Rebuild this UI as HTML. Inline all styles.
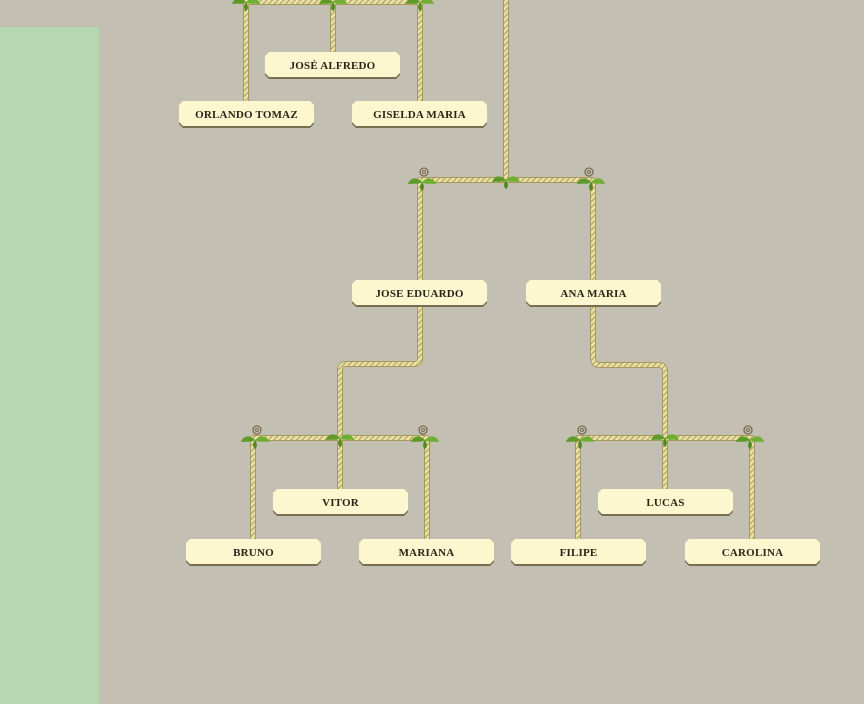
<!DOCTYPE html>
<html><head><meta charset="utf-8"><style>
html,body{margin:0;padding:0;width:864px;height:704px;overflow:hidden;background:#c3bfb3}
svg{display:block}
text{font-family:"Liberation Serif",serif;font-size:11px;font-weight:bold;fill:#2a2418;letter-spacing:0.2px}
</style></head><body>
<svg width="864" height="704" viewBox="0 0 864 704" xmlns="http://www.w3.org/2000/svg">
<defs>
<pattern id="rp" width="4" height="4" patternUnits="userSpaceOnUse" patternTransform="rotate(45)">
<rect width="4" height="4" fill="#ece3a8"/><rect width="1.5" height="4" fill="#bcad6c"/>
</pattern>
<g id="leaf">
<path d="M0,0 C-6,-6 -12,-4 -14,2 C-8,1 -4,3 0,0 Z" fill="#5e9a2a"/>
<path d="M0,0 C6,-6 12,-4 14,2 C8,1 4,3 0,0 Z" fill="#6fae32"/>
<path d="M0,0 C-3,4 -2,8 0,9 C2,8 3,4 0,0 Z" fill="#4f8a22"/>
</g>
<g id="curl">
<circle cx="0" cy="-8" r="4" fill="none" stroke="#7a6a50" stroke-width="1.3"/>
<circle cx="0" cy="-8" r="1.5" fill="none" stroke="#7a6a50" stroke-width="1"/>
</g>
<g id="box"><polygon points="4,1 131,1 135,5 135,23 131,27 4,27 0,23 0,5" fill="#7a6e52"/><polygon points="4,0 131,0 135,4 135,21 131,25 4,25 0,21 0,4" fill="#fdf7cf"/></g>
</defs>
<rect x="0" y="27" width="99" height="677" fill="#b5d8b0"/>
<g fill="none" stroke-linejoin="round" stroke-linecap="butt">
<g stroke="#a69a5c" stroke-width="6">
<path d="M246,101 V2 H420 V101 M333,2 V52"/>
<path d="M506,0 V180 M420,280 V180 H593 V280"/>
<path d="M420,306 V358 Q420,364 414,364 H346 Q340,364 340,370 V438 M253,539 V438 H427 V539 M340,438 V489"/>
<path d="M593,306 V358 Q593,365 600,365 H659 Q665,365 665,372 V438 M578,539 V438 H752 V539 M665,438 V489"/>
</g>
<g stroke="url(#rp)" stroke-width="4">
<path d="M246,101 V2 H420 V101 M333,2 V52"/>
<path d="M506,0 V180 M420,280 V180 H593 V280"/>
<path d="M420,306 V358 Q420,364 414,364 H346 Q340,364 340,370 V438 M253,539 V438 H427 V539 M340,438 V489"/>
<path d="M593,306 V358 Q593,365 600,365 H659 Q665,365 665,372 V438 M578,539 V438 H752 V539 M665,438 V489"/>
</g>
</g>
<use href="#curl" x="424" y="180"/><use href="#curl" x="589" y="180"/>
<use href="#curl" x="257" y="438"/><use href="#curl" x="423" y="438"/>
<use href="#curl" x="582" y="438"/><use href="#curl" x="748" y="438"/>
<use href="#leaf" x="246" y="2"/><use href="#leaf" x="333" y="2"/><use href="#leaf" x="420" y="2"/>
<use href="#leaf" x="506" y="180"/><use href="#leaf" x="422" y="182"/><use href="#leaf" x="591" y="182"/>
<use href="#leaf" x="340" y="438"/><use href="#leaf" x="255" y="440"/><use href="#leaf" x="425" y="440"/>
<use href="#leaf" x="665" y="438"/><use href="#leaf" x="580" y="440"/><use href="#leaf" x="750" y="440"/>
<g text-anchor="middle">
<g transform="translate(265,52)"><use href="#box"/><text x="67.5" y="17">JOSÉ ALFREDO</text></g>
<g transform="translate(179,101)"><use href="#box"/><text x="67.5" y="17">ORLANDO TOMAZ</text></g>
<g transform="translate(352,101)"><use href="#box"/><text x="67.5" y="17">GISELDA MARIA</text></g>
<g transform="translate(352,280)"><use href="#box"/><text x="67.5" y="17">JOSE EDUARDO</text></g>
<g transform="translate(526,280)"><use href="#box"/><text x="67.5" y="17">ANA MARIA</text></g>
<g transform="translate(273,489)"><use href="#box"/><text x="67.5" y="17">VITOR</text></g>
<g transform="translate(186,539)"><use href="#box"/><text x="67.5" y="17">BRUNO</text></g>
<g transform="translate(359,539)"><use href="#box"/><text x="67.5" y="17">MARIANA</text></g>
<g transform="translate(511,539)"><use href="#box"/><text x="67.5" y="17">FILIPE</text></g>
<g transform="translate(598,489)"><use href="#box"/><text x="67.5" y="17">LUCAS</text></g>
<g transform="translate(685,539)"><use href="#box"/><text x="67.5" y="17">CAROLINA</text></g>
</g>
</svg>
</body></html>
